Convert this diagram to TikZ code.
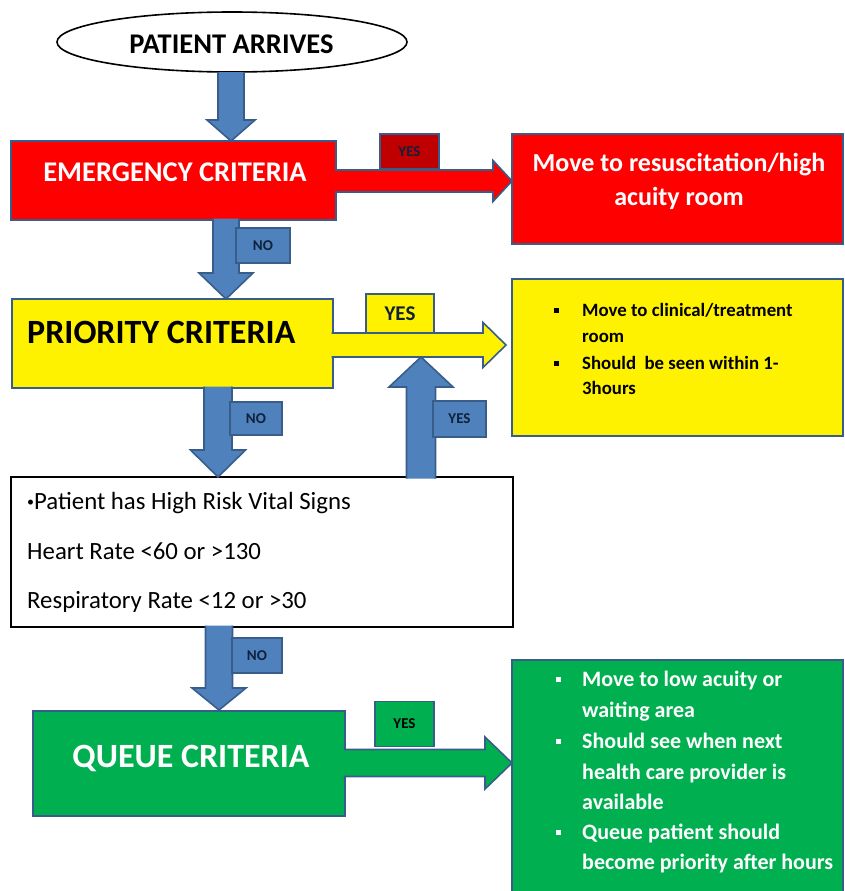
\documentclass[tikz,border=0pt]{standalone}
\usepackage{fontspec}
\setmainfont{Carlito}
\usetikzlibrary{shapes.geometric,calc}
\definecolor{ablue}{HTML}{4F81BD}
\definecolor{bord}{HTML}{385D8A}
\definecolor{tagtxt}{HTML}{10213A}
\definecolor{dred}{HTML}{C00000}
\definecolor{ogreen}{HTML}{00B050}
\newcommand\fs[1]{\fontsize{#1}{#1}\selectfont}
% vertical block arrow: #1 from, #2 tip, #3 shaft half width, #4 head half width, #5 signed head length, #6 style
\newcommand\vArrow[6]{%
  \filldraw[#6] let \p1=(#1),\p2=(#2) in
    ({\x2+#3},\y1) -- ({\x2+#3},{\y2+#5}) -- ({\x2+#4},{\y2+#5}) -- (\x2,\y2)
    -- ({\x2-#4},{\y2+#5}) -- ({\x2-#3},{\y2+#5}) -- ({\x2-#3},\y1);}
% horizontal block arrow
\newcommand\hArrow[6]{%
  \filldraw[#6] let \p1=(#1),\p2=(#2) in
    (\x1,{\y2+#3}) -- ({\x2-#5},{\y2+#3}) -- ({\x2-#5},{\y2+#4}) -- (\x2,\y2)
    -- ({\x2-#5},{\y2-#4}) -- ({\x2-#5},{\y2-#3}) -- (\x1,{\y2-#3});}
\begin{document}
\begin{tikzpicture}[x=1pt,y=-1pt,
  box/.style={draw=bord, line width=1.6pt, inner sep=0pt, outer sep=0pt},
  tag/.style={draw=bord, line width=1.6pt, inner sep=0pt, outer sep=0pt, text=tagtxt, font=\bfseries\fs{15}},
  arrowshape/.style={draw=bord, line width=1.6pt, line join=miter},
  txt/.style={inner sep=0pt, anchor=mid west},
  ctxt/.style={inner sep=0pt, anchor=mid},
  sq/.style={inner sep=0pt, minimum size=5pt},
]
\useasboundingbox (0,0) rectangle (845,891);
\clip (0,0) rectangle (845,891);

% ---- boxes
\node[draw=black, line width=1.6pt, ellipse, minimum width=350, minimum height=60, inner sep=0pt, outer sep=0pt] (start) at (232,42) {};
\node[box, fill=red, minimum width=325, minimum height=79] (emerg) at (173.5,180.5) {};
\node[box, fill=red, minimum width=331, minimum height=110] (resus) at (677.5,189) {};
\node[box, fill=yellow, minimum width=321, minimum height=89] (prio) at (172.5,343.5) {};
\node[box, fill=yellow, minimum width=331, minimum height=157] (clin) at (677.5,357.5) {};
\node[draw=black, line width=1.8pt, inner sep=0pt, outer sep=0pt, fill=white, minimum width=502, minimum height=150] (vital) at (262,552) {};
\node[box, fill=ogreen, minimum width=312, minimum height=105] (queue) at (189,763.5) {};
\node[box, fill=ogreen, minimum width=331, minimum height=240] (low) at (677.5,780) {};

% ---- tips of the block arrows
\coordinate (t1) at (231,141);
\coordinate (t2) at (226,299);
\coordinate (t3) at (218,477);
\coordinate (t4) at (219,710);
\coordinate (tu) at (421,357);
\coordinate (tr) at (512,181);
\coordinate (ty) at (506,345);
\coordinate (tg) at (512,763);
\coordinate (s1) at ($(emerg.south)+(0,-1.5)$);
\coordinate (s2) at ($(prio.south)+(0,-1.5)$);
\coordinate (s3) at ($(vital.south)+(0,-1.5)$);
\coordinate (su) at ($(vital.north)+(0,1.5)$);
\coordinate (sr) at ($(emerg.east)+(-1.5,0)$);
\coordinate (sy) at ($(prio.east)+(-1.5,0)$);
\coordinate (sg) at ($(queue.east)+(-1.5,0)$);

% ---- arrows
\vArrow{start.south}{t1}{13pt}{24pt}{21pt}{arrowshape, fill=ablue}
\vArrow{s1}{t2}{13pt}{27pt}{26pt}{arrowshape, fill=ablue}
\vArrow{s2}{t3}{14pt}{27.5pt}{27pt}{arrowshape, fill=ablue}
\vArrow{s3}{t4}{13.5pt}{27pt}{22pt}{arrowshape, fill=ablue}
\hArrow{sr}{tr}{11pt}{20.5pt}{19pt}{arrowshape, fill=red}
\hArrow{sy}{ty}{12pt}{22.5pt}{23pt}{arrowshape, fill=yellow}
\vArrow{su}{tu}{14.5pt}{32pt}{-30pt}{arrowshape, fill=ablue}
\hArrow{sg}{tg}{13.5pt}{26pt}{27pt}{arrowshape, fill=ogreen}

% ---- yes / no tags
\node[tag, fill=dred, minimum width=59, minimum height=35] (y1) at (409.5,151.5) {YES};
\node[tag, fill=ablue, minimum width=54, minimum height=35] (n1) at (263,245.5) {NO};
\node[tag, fill=yellow, minimum width=68, minimum height=39, font=\bfseries\fs{21}] (y2) at (400,313.5) {YES};
\node[tag, fill=ablue, minimum width=52, minimum height=33] (n2) at (256,418.5) {NO};
\node[tag, fill=ablue, minimum width=53, minimum height=36] (y3) at (459.5,419) {YES};
\node[tag, fill=ablue, minimum width=50, minimum height=35] (n3) at (257,655.5) {NO};
\node[tag, fill=ogreen, minimum width=59, minimum height=45, text=black] (y4) at (404.5,724) {YES};

% ---- texts
\node[ctxt, font=\bfseries\fs{28.5}] (startt) at (231.5,51) {PATIENT ARRIVES};
\node[ctxt, font=\bfseries\fs{28.5}, text=white] (emergt) at (175,179) {EMERGENCY CRITERIA};
\node[ctxt, font=\bfseries\fs{26}, text=white] (resus1) at (679,169.5) {Move to resuscitation/high};
\node[ctxt, font=\bfseries\fs{26}, text=white] (resus2) at (679,203.5) {acuity room};
\node[txt, font=\bfseries\fs{34}] (priot) at (27,341) {PRIORITY CRITERIA};

\node[sq, fill=black] (cb1) at (556,310) {};
\node[sq, fill=black] (cb2) at (556,363) {};
\node[txt, font=\bfseries\fs{18.8}] (c1) at (582,314.5) {Move to clinical/treatment};
\node[txt, font=\bfseries\fs{18.8}] (c2) at (582,340.5) {room};
\node[txt, font=\bfseries\fs{18.8}] (c3) at (582,367.5) {Should~ be seen within 1-};
\node[txt, font=\bfseries\fs{18.8}] (c4) at (582,392.5) {3hours};

\node[txt, font=\fs{24.8}] (v1) at (27,507) {{\fs{14}\raisebox{3pt}{•}}Patient has High Risk Vital Signs};
\node[txt, font=\fs{24.8}] (v2) at (27,557) {Heart Rate <60 or >130};
\node[txt, font=\fs{24.8}] (v3) at (27,606) {Respiratory Rate <12 or >30};

\node[ctxt, font=\bfseries\fs{34}, text=white] (queuet) at (191,765) {QUEUE CRITERIA};

\node[sq, fill=white] (gb1) at (558,679) {};
\node[sq, fill=white] (gb2) at (558,741) {};
\node[sq, fill=white] (gb3) at (558,832) {};
\node[txt, font=\bfseries\fs{22}, text=white] (g1) at (582,684.5) {Move to low acuity or};
\node[txt, font=\bfseries\fs{22}, text=white] (g2) at (582,715.5) {waiting area};
\node[txt, font=\bfseries\fs{22}, text=white] (g3) at (582,746.5) {Should see when next};
\node[txt, font=\bfseries\fs{22}, text=white] (g4) at (582,777.5) {health care provider is};
\node[txt, font=\bfseries\fs{22}, text=white] (g5) at (582,807.5) {available};
\node[txt, font=\bfseries\fs{22}, text=white] (g6) at (582,837.5) {Queue patient should};
\node[txt, font=\bfseries\fs{22}, text=white] (g7) at (582,867.5) {become priority after hours};
\end{tikzpicture}
\end{document}
